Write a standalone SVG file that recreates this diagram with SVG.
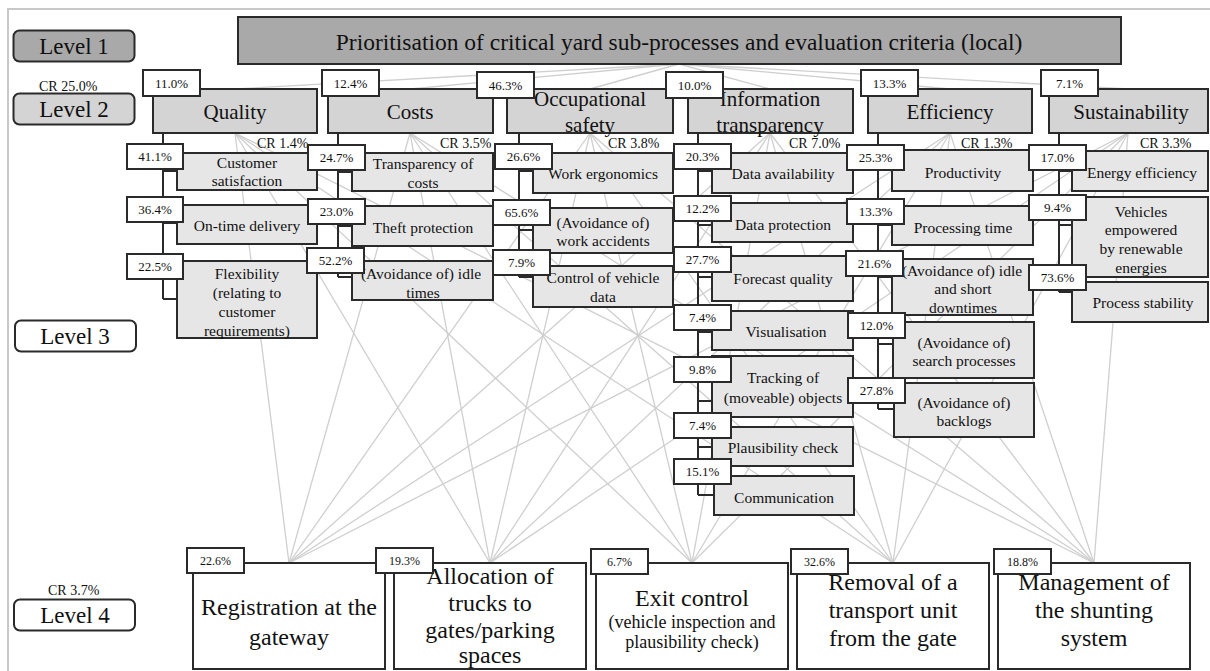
<svg xmlns="http://www.w3.org/2000/svg" width="1210" height="671" viewBox="0 0 1210 671">
<style>
.t{font-family:"Liberation Serif","Times New Roman","DejaVu Serif",serif;fill:#111;text-anchor:middle;dominant-baseline:central}
.b{stroke:#2a2a2a;stroke-width:2}
.d1{fill:#a9a9a9}
.d2{fill:#d4d4d4}
.d3{fill:#e6e6e6}
.w{fill:#fff}
.g line{stroke:#cfcfcf;stroke-width:1.3}
.e{fill:none;stroke:#2a2a2a;stroke-width:2}
.lv{font-size:23px}
.h1{font-size:23.5px}
.h2{font-size:21px}
.h3{font-size:15.5px}
.h4{font-size:24px}
.h4s{font-size:18px}
.cr{font-size:14px;text-anchor:start}
.p{font-size:13px}
.p4{font-size:12px}
</style>
<rect x="8" y="9" width="1220" height="700" fill="none" stroke="#c8c8c8" stroke-width="2"/>

<g id="connectors">
<g class="g">
<line x1="679" y1="64" x2="235" y2="89"/>
<line x1="679" y1="64" x2="410" y2="89"/>
<line x1="679" y1="64" x2="590" y2="89"/>
<line x1="679" y1="64" x2="770" y2="89"/>
<line x1="679" y1="64" x2="950" y2="89"/>
<line x1="679" y1="64" x2="1128" y2="89"/>
<line x1="235" y1="133" x2="289" y2="563"/>
<line x1="235" y1="133" x2="490" y2="563"/>
<line x1="235" y1="133" x2="692" y2="563"/>
<line x1="235" y1="133" x2="893" y2="563"/>
<line x1="235" y1="133" x2="1094" y2="563"/>
<line x1="410" y1="133" x2="289" y2="563"/>
<line x1="410" y1="133" x2="490" y2="563"/>
<line x1="410" y1="133" x2="692" y2="563"/>
<line x1="410" y1="133" x2="893" y2="563"/>
<line x1="410" y1="133" x2="1094" y2="563"/>
<line x1="590" y1="133" x2="289" y2="563"/>
<line x1="590" y1="133" x2="490" y2="563"/>
<line x1="590" y1="133" x2="692" y2="563"/>
<line x1="590" y1="133" x2="893" y2="563"/>
<line x1="590" y1="133" x2="1094" y2="563"/>
<line x1="770" y1="133" x2="289" y2="563"/>
<line x1="770" y1="133" x2="490" y2="563"/>
<line x1="770" y1="133" x2="692" y2="563"/>
<line x1="770" y1="133" x2="893" y2="563"/>
<line x1="770" y1="133" x2="1094" y2="563"/>
<line x1="950" y1="133" x2="289" y2="563"/>
<line x1="950" y1="133" x2="490" y2="563"/>
<line x1="950" y1="133" x2="692" y2="563"/>
<line x1="950" y1="133" x2="893" y2="563"/>
<line x1="950" y1="133" x2="1094" y2="563"/>
<line x1="1128" y1="133" x2="289" y2="563"/>
<line x1="1128" y1="133" x2="490" y2="563"/>
<line x1="1128" y1="133" x2="692" y2="563"/>
<line x1="1128" y1="133" x2="893" y2="563"/>
<line x1="1128" y1="133" x2="1094" y2="563"/>
</g>
<path class="e" d="M163,133V299M163,171H177M163,223H177M163,299H177"/>
<path class="e" d="M338,133V277M338,172H352M338,226H352M338,277H352"/>
<path class="e" d="M519,133V277M519,171H533M519,230H533M519,277H533"/>
<path class="e" d="M698,133V495M698,171H712M698,225H712M698,277H712M698,332H712M698,401H712M698,447H712M698,495H714"/>
<path class="e" d="M878,133V409M878,170H892M878,225H892M878,277H892M878,344H893M878,409H894"/>
<path class="e" d="M1059,133V292M1059,171H1072M1059,225H1072M1059,292H1072"/>
</g>

<g id="levels">
<rect class="d1 b" x="13.5" y="30.5" width="121" height="31" rx="6"/>
<text class="t lv" x="74" y="46">Level 1</text>
<text class="t cr" x="39" y="86">CR 25.0%</text>
<rect class="d2 b" x="13.5" y="93.5" width="121" height="31" rx="6"/>
<text class="t lv" x="74" y="109">Level 2</text>
<rect class="w b" x="15" y="320.5" width="121" height="31" rx="6"/>
<text class="t lv" x="75" y="336">Level 3</text>
<text class="t cr" x="48" y="590">CR 3.7%</text>
<rect class="w b" x="14" y="599.5" width="121" height="31" rx="6"/>
<text class="t lv" x="75" y="615">Level 4</text>
</g>

<g id="goal">
<rect class="d1 b" x="238" y="17" width="883" height="47"/>
<text class="t h1" x="679" y="42">Prioritisation of critical yard sub-processes and evaluation criteria (local)</text>
</g>

<g id="quality">
<rect class="d2 b" x="153" y="89" width="164" height="44"/>
<text class="t h2" x="235" y="112">Quality</text>
<rect class="w b" x="143" y="70" width="57" height="26"/>
<text class="t p" x="171.5" y="83">11.0%</text>
<text class="t cr" x="257" y="143">CR 1.4%</text>
</g>
<g id="costs">
<rect class="d2 b" x="328" y="89" width="165" height="44"/>
<text class="t h2" x="410" y="112">Costs</text>
<rect class="w b" x="322" y="70" width="57" height="26"/>
<text class="t p" x="350.5" y="83">12.4%</text>
<text class="t cr" x="440" y="143">CR 3.5%</text>
</g>
<g id="occupational-safety">
<rect class="d2 b" x="507" y="89" width="166" height="44"/>
<text class="t h2" x="590" y="99">Occupational</text>
<text class="t h2" x="590" y="125">safety</text>
<rect class="w b" x="477" y="72" width="57" height="26"/>
<text class="t p" x="505.5" y="85">46.3%</text>
<text class="t cr" x="608" y="143">CR 3.8%</text>
</g>
<g id="information-transparency">
<rect class="d2 b" x="688" y="89" width="165" height="44"/>
<text class="t h2" x="770" y="99">Information</text>
<text class="t h2" x="770" y="125">transparency</text>
<rect class="w b" x="666" y="72" width="57" height="26"/>
<text class="t p" x="694.5" y="85">10.0%</text>
<text class="t cr" x="789" y="143">CR 7.0%</text>
</g>
<g id="efficiency">
<rect class="d2 b" x="868" y="89" width="164" height="44"/>
<text class="t h2" x="950" y="112">Efficiency</text>
<rect class="w b" x="861" y="70" width="57" height="26"/>
<text class="t p" x="889.5" y="83">13.3%</text>
<text class="t cr" x="961" y="143">CR 1.3%</text>
</g>
<g id="sustainability">
<rect class="d2 b" x="1049" y="89" width="159" height="44"/>
<text class="t h2" x="1131" y="112">Sustainability</text>
<rect class="w b" x="1041" y="70" width="57" height="26"/>
<text class="t p" x="1069.5" y="83">7.1%</text>
<text class="t cr" x="1140" y="143">CR 3.3%</text>
</g>

<g id="customer-satisfaction">
<rect class="d3 b" x="177" y="153" width="140" height="37"/>
<text class="t h3" x="247" y="162">Customer</text>
<text class="t h3" x="247" y="180">satisfaction</text>
<rect class="w b" x="127" y="144" width="56" height="25"/>
<text class="t p" x="155" y="156.5">41.1%</text>
</g>
<g id="on-time-delivery">
<rect class="d3 b" x="177" y="205" width="140" height="39"/>
<text class="t h3" x="247" y="225">On-time delivery</text>
<rect class="w b" x="127" y="197" width="56" height="25"/>
<text class="t p" x="155" y="209.5">36.4%</text>
</g>
<g id="flexibility">
<rect class="d3 b" x="177" y="261" width="140" height="77"/>
<text class="t h3" x="247" y="273">Flexibility</text>
<text class="t h3" x="247" y="292">(relating to</text>
<text class="t h3" x="247" y="311">customer</text>
<text class="t h3" x="247" y="330">requirements)</text>
<rect class="w b" x="127" y="254" width="56" height="25"/>
<text class="t p" x="155" y="266.5">22.5%</text>
</g>

<g id="transparency-of-costs">
<rect class="d3 b" x="352" y="153" width="141" height="38"/>
<text class="t h3" x="423" y="163">Transparency of</text>
<text class="t h3" x="423" y="182">costs</text>
<rect class="w b" x="308" y="145" width="57" height="25"/>
<text class="t p" x="336.5" y="157.5">24.7%</text>
</g>
<g id="theft-protection">
<rect class="d3 b" x="352" y="206" width="141" height="40"/>
<text class="t h3" x="423" y="227">Theft protection</text>
<rect class="w b" x="308" y="199" width="57" height="25"/>
<text class="t p" x="336.5" y="211.5">23.0%</text>
</g>
<g id="idle-times">
<rect class="d3 b" x="352" y="261" width="141" height="39"/>
<text class="t h3" x="421" y="273">(Avoidance of) idle</text>
<text class="t h3" x="423" y="292">times</text>
<rect class="w b" x="307" y="248" width="57" height="25"/>
<text class="t p" x="335.5" y="260.5">52.2%</text>
</g>

<g id="work-ergonomics">
<rect class="d3 b" x="533" y="153" width="140" height="40"/>
<text class="t h3" x="603" y="173">Work ergonomics</text>
<rect class="w b" x="495" y="144" width="57" height="25"/>
<text class="t p" x="523.5" y="156.5">26.6%</text>
</g>
<g id="work-accidents">
<rect class="d3 b" x="533" y="208" width="140" height="45"/>
<text class="t h3" x="603" y="222">(Avoidance of)</text>
<text class="t h3" x="603" y="240">work accidents</text>
<rect class="w b" x="493" y="200" width="57" height="25"/>
<text class="t p" x="521.5" y="212.5">65.6%</text>
</g>
<g id="control-of-vehicle-data">
<rect class="d3 b" x="533" y="266" width="140" height="41"/>
<text class="t h3" x="603" y="277">Control of vehicle</text>
<text class="t h3" x="603" y="296">data</text>
<rect class="w b" x="493" y="250" width="57" height="25"/>
<text class="t p" x="521.5" y="262.5">7.9%</text>
</g>

<g id="data-availability">
<rect class="d3 b" x="712" y="153" width="141" height="40"/>
<text class="t h3" x="783" y="173">Data availability</text>
<rect class="w b" x="674" y="144" width="57" height="25"/>
<text class="t p" x="702.5" y="156.5">20.3%</text>
</g>
<g id="data-protection">
<rect class="d3 b" x="712" y="203" width="141" height="39"/>
<text class="t h3" x="783" y="224">Data protection</text>
<rect class="w b" x="674" y="196" width="57" height="25"/>
<text class="t p" x="702.5" y="208.5">12.2%</text>
</g>
<g id="forecast-quality">
<rect class="d3 b" x="712" y="256" width="141" height="45"/>
<text class="t h3" x="783" y="278">Forecast quality</text>
<rect class="w b" x="674" y="247" width="57" height="25"/>
<text class="t p" x="702.5" y="259.5">27.7%</text>
</g>
<g id="visualisation">
<rect class="d3 b" x="712" y="311" width="141" height="39"/>
<text class="t h3" x="786" y="331">Visualisation</text>
<rect class="w b" x="674" y="305" width="57" height="25"/>
<text class="t p" x="702.5" y="317.5">7.4%</text>
</g>
<g id="tracking">
<rect class="d3 b" x="712" y="356" width="141" height="61"/>
<text class="t h3" x="783" y="377">Tracking of</text>
<text class="t h3" x="783" y="397">(moveable) objects</text>
<rect class="w b" x="674" y="357" width="57" height="25"/>
<text class="t p" x="702.5" y="369.5">9.8%</text>
</g>
<g id="plausibility-check">
<rect class="d3 b" x="712" y="427" width="141" height="39"/>
<text class="t h3" x="783" y="447">Plausibility check</text>
<rect class="w b" x="674" y="413" width="57" height="25"/>
<text class="t p" x="702.5" y="425.5">7.4%</text>
</g>
<g id="communication">
<rect class="d3 b" x="714" y="476" width="140" height="39"/>
<text class="t h3" x="784" y="497">Communication</text>
<rect class="w b" x="674" y="459" width="57" height="25"/>
<text class="t p" x="702.5" y="471.5">15.1%</text>
</g>

<g id="productivity">
<rect class="d3 b" x="892" y="150" width="141" height="41"/>
<text class="t h3" x="963" y="172">Productivity</text>
<rect class="w b" x="847" y="145" width="57" height="25"/>
<text class="t p" x="875.5" y="157.5">25.3%</text>
</g>
<g id="processing-time">
<rect class="d3 b" x="892" y="206" width="141" height="39"/>
<text class="t h3" x="963" y="227">Processing time</text>
<rect class="w b" x="847" y="199" width="57" height="25"/>
<text class="t p" x="875.5" y="211.5">13.3%</text>
</g>
<g id="idle-short-downtimes">
<rect class="d3 b" x="892" y="259" width="141" height="56"/>
<text class="t h3" x="962" y="270">(Avoidance of) idle</text>
<text class="t h3" x="963" y="288">and short</text>
<text class="t h3" x="963" y="307">downtimes</text>
<rect class="w b" x="846" y="251" width="57" height="25"/>
<text class="t p" x="874.5" y="263.5">21.6%</text>
</g>
<g id="search-processes">
<rect class="d3 b" x="893" y="322" width="141" height="56"/>
<text class="t h3" x="964" y="342">(Avoidance of)</text>
<text class="t h3" x="964" y="360">search processes</text>
<rect class="w b" x="848" y="313" width="57" height="25"/>
<text class="t p" x="876.5" y="325.5">12.0%</text>
</g>
<g id="backlogs">
<rect class="d3 b" x="894" y="383" width="140" height="54"/>
<text class="t h3" x="964" y="402">(Avoidance of)</text>
<text class="t h3" x="964" y="420">backlogs</text>
<rect class="w b" x="848" y="378" width="57" height="25"/>
<text class="t p" x="876.5" y="390.5">27.8%</text>
</g>

<g id="energy-efficiency">
<rect class="d3 b" x="1072" y="151" width="136" height="40"/>
<text class="t h3" x="1142" y="172">Energy efficiency</text>
<rect class="w b" x="1029" y="145" width="57" height="25"/>
<text class="t p" x="1057.5" y="157.5">17.0%</text>
</g>
<g id="renewable-vehicles">
<rect class="d3 b" x="1072" y="197" width="136" height="80"/>
<text class="t h3" x="1141" y="211">Vehicles</text>
<text class="t h3" x="1141" y="229">empowered</text>
<text class="t h3" x="1141" y="248">by renewable</text>
<text class="t h3" x="1141" y="267">energies</text>
<rect class="w b" x="1029" y="195" width="57" height="25"/>
<text class="t p" x="1057.5" y="207.5">9.4%</text>
</g>
<g id="process-stability">
<rect class="d3 b" x="1072" y="282" width="136" height="40"/>
<text class="t h3" x="1143" y="302">Process stability</text>
<rect class="w b" x="1029" y="265" width="57" height="25"/>
<text class="t p" x="1057.5" y="277.5">73.6%</text>
</g>

<g id="registration">
<rect class="w b" x="193" y="563" width="192" height="106"/>
<text class="t h4" x="289" y="607">Registration at the</text>
<text class="t h4" x="289" y="637">gateway</text>
<rect class="w b" x="187" y="548" width="57" height="25"/>
<text class="t p4" x="215.5" y="560.5">22.6%</text>
</g>
<g id="allocation">
<rect class="w b" x="394" y="563" width="192" height="106"/>
<text class="t h4" x="490" y="576">Allocation of</text>
<text class="t h4" x="490" y="603">trucks to</text>
<text class="t h4" x="490" y="630">gates/parking</text>
<text class="t h4" x="490" y="655">spaces</text>
<rect class="w b" x="376" y="548" width="57" height="25"/>
<text class="t p4" x="404.5" y="560.5">19.3%</text>
</g>
<g id="exit-control">
<rect class="w b" x="596" y="563" width="192" height="106"/>
<text class="t h4" x="692" y="598">Exit control</text>
<text class="t h4s" x="692" y="622">(vehicle inspection and</text>
<text class="t h4s" x="692" y="642">plausibility check)</text>
<rect class="w b" x="591" y="549" width="57" height="25"/>
<text class="t p4" x="619.5" y="561.5">6.7%</text>
</g>
<g id="removal">
<rect class="w b" x="797" y="563" width="192" height="106"/>
<text class="t h4" x="893" y="582">Removal of a</text>
<text class="t h4" x="893" y="610">transport unit</text>
<text class="t h4" x="893" y="638">from the gate</text>
<rect class="w b" x="791" y="549" width="57" height="25"/>
<text class="t p4" x="819.5" y="561.5">32.6%</text>
</g>
<g id="shunting">
<rect class="w b" x="998" y="563" width="192" height="106"/>
<text class="t h4" x="1094" y="582">Management of</text>
<text class="t h4" x="1094" y="610">the shunting</text>
<text class="t h4" x="1094" y="638">system</text>
<rect class="w b" x="994" y="549" width="57" height="25"/>
<text class="t p4" x="1022.5" y="561.5">18.8%</text>
</g>
</svg>
